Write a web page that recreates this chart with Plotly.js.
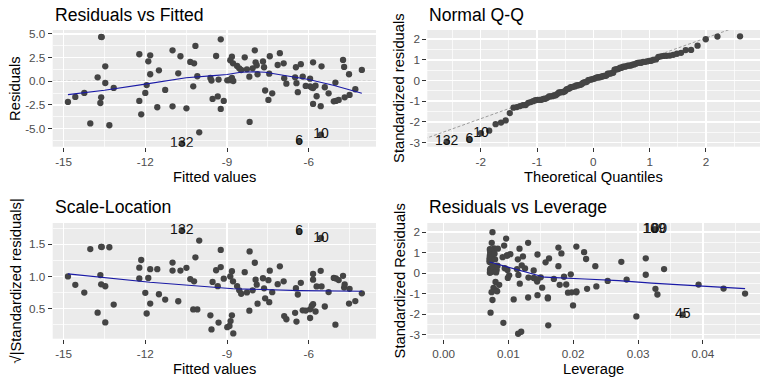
<!DOCTYPE html>
<html>
<head>
<meta charset="utf-8">
<script src="https://cdn.plot.ly/plotly-3.0.1.min.js"></script>
<style>html,body{margin:0;padding:0;background:#fff;}#chart{width:768px;height:384px;}</style>
</head>
<body>
<div id="chart"></div>
<script>
// ---------- data ----------
// observation ids for labelled points (first six entries of the arrays below)
const obsIds = ["132", "6", "10", "45", "100", "109"];

// fitted values (x of "Residuals vs Fitted")
const fitted = [
  -10.66, -6.35, -5.55, -14.02, -13.62, -13.60,
  -14.84, -14.57, -14.24, -13.75, -13.47, -13.62, -13.65, -13.47, -13.32, -13.16,
  -12.22, -12.22, -12.15, -11.89, -11.82, -11.82, -11.95, -12.00, -11.56, -11.50,
  -11.27, -11.00, -11.00, -10.79, -10.71, -10.49, -10.35, -10.21, -10.16, -10.24,
  -10.09, -10.02, -9.61, -9.57, -9.53, -9.40, -9.34,
  -9.23, -9.31, -9.12, -9.23, -8.99, -8.87, -8.82, -8.88, -8.82, -8.78,
  -8.63, -8.55, -8.48, -8.35, -8.27, -8.18, -8.06, -7.98, -7.95, -7.91,
  -7.88, -8.17, -7.68, -7.64, -7.60, -7.48, -7.34, -7.43, -7.45, -7.06,
  -7.14, -6.92, -6.90, -6.82, -6.47, -6.29, -6.50, -6.45, -6.22, -6.40,
  -6.11, -5.95, -5.84, -5.95, -5.89, -5.84, -5.75, -5.71, -5.84, -5.56,
  -5.53, -5.41, -5.27, -5.02, -5.08, -5.00, -4.90, -4.74, -4.70, -4.68,
  -4.52, -4.50, -4.29, -4.05, -8.91, -8.77
];
// residuals (y of "Residuals vs Fitted")
const residuals = [
  -6.56, -6.34, -5.64, -4.45, 4.68, 4.66,
  -2.18, -1.65, -1.23, 0.42, 1.58, -1.69, -2.29, -0.18, -4.64, -0.70,
  2.85, -2.07, -3.48, 2.11, 2.74, 0.74, -0.40, -1.23, -2.74, 1.16,
  -0.91, 3.27, -2.64, 0.84, 2.64, -2.85, 2.04, 1.90, 3.73, -0.53,
  0.53, -5.38, 0.35, 0.07, -1.86, 2.67, -1.60,
  4.43, 0.18, -2.07, -2.92, 0.10, 0.21, 0.35, 2.22, 2.60, 1.90,
  1.61, 1.37, 1.19, 2.53, 1.26, 0.49, 1.37, 3.27, 2.00, 1.69,
  0.74, -4.29, 2.10, 1.48, -0.97, -1.97, -1.27, 2.64, 0.80, 2.97,
  1.72, 1.90, 0.33, -0.25, 1.48, 1.80, 0.42, -0.20, 0.50, -1.15,
  -0.49, 0.28, 2.00, -0.53, -0.65, -0.72, -0.46, -1.58, -2.39, -2.62,
  1.58, -0.63, -1.27, -0.14, -2.11, -2.07, -1.97, 2.25, 1.51, -1.69,
  0.74, -1.44, -0.84, 1.20, 0.12, 0.03
];

// model constants
const residualSE = 2.23;     // residual standard error
const hatFloor = 0.0071;     // smallest leverage (1/n)
const fittedMean = -8.56;    // fitted value of minimum leverage
const fittedSS = 1001;       // sum of squares of fitted values about their mean

// smoother lines
const smooth1X = [-14.84, -13.5, -12.0, -10.5, -9.5, -9.0, -8.5, -8.0, -7.6, -7.1, -6.5, -6.0, -5.1, -4.05];
const smooth1Y = [-1.41, -0.95, -0.30, 0.38, 0.60, 0.72, 0.95, 1.00, 0.95, 0.70, 0.42, 0.18, -0.42, -1.27];
const smooth3X = [-14.84, -11.83, -8.77, -6.32, -4.05];
const smooth3Y = [1.04, 0.91, 0.81, 0.78, 0.77];
const smooth4X = [0.0071, 0.0125, 0.0156, 0.0218, 0.027, 0.0321, 0.0398, 0.0465];
const smooth4Y = [0.54, 0.08, -0.20, -0.29, -0.37, -0.49, -0.65, -0.76];
const qqLineX = [-3.0, 3.0];
const qqLineY = [-2.82, 3.03];

// tick labels
const x1Ticks = [-15, -12, -9, -6];
const x1Text = ["-15", "-12", "-9", "-6"];
const y1Ticks = [-5, -2.5, 0, 2.5, 5];
const y1Text = ["-5.0", "-2.5", "0.0", "2.5", "5.0"];
const x2Ticks = [-2, -1, 0, 1, 2];
const x2Text = ["-2", "-1", "0", "1", "2"];
const yStdTicks = [-3, -2, -1, 0, 1, 2];
const yStdText = ["-3", "-2", "-1", "0", "1", "2"];
const y3Ticks = [0.5, 1.0, 1.5];
const y3Text = ["0.5", "1.0", "1.5"];
const x4Ticks = [0, 0.01, 0.02, 0.03, 0.04];
const x4Text = ["0.00", "0.01", "0.02", "0.03", "0.04"];

// ---------- derived diagnostic quantities ----------
function qnorm(p){
  const a=[-3.969683028665376e+01,2.209460984245205e+02,-2.759285104469687e+02,1.383577518672690e+02,-3.066479806614716e+01,2.506628277459239e+00];
  const b=[-5.447609879822406e+01,1.615858368580409e+02,-1.556989798598866e+02,6.680131188771972e+01,-1.328068155288572e+01];
  const c=[-7.784894002430293e-03,-3.223964580411365e-01,-2.400758277161838e+00,-2.549732539343734e+00,4.374664141464968e+00,2.938163982698783e+00];
  const d=[7.784695709041462e-03,3.224671290700398e-01,2.445134137142996e+00,3.754408661907416e+00];
  const pl=0.02425, ph=1-pl; let q, r;
  if(p<pl){q=Math.sqrt(-2*Math.log(p));return (((((c[0]*q+c[1])*q+c[2])*q+c[3])*q+c[4])*q+c[5])/((((d[0]*q+d[1])*q+d[2])*q+d[3])*q+1);}
  if(p>ph){q=Math.sqrt(-2*Math.log(1-p));return -(((((c[0]*q+c[1])*q+c[2])*q+c[3])*q+c[4])*q+c[5])/((((d[0]*q+d[1])*q+d[2])*q+d[3])*q+1);}
  q=p-0.5; r=q*q;
  return (((((a[0]*r+a[1])*r+a[2])*r+a[3])*r+a[4])*r+a[5])*q/(((((b[0]*r+b[1])*r+b[2])*r+b[3])*r+b[4])*r+1);
}
const n = fitted.length;
const leverage = fitted.map(f => hatFloor + (f - fittedMean) * (f - fittedMean) / fittedSS);
const stdRes = residuals.map((r, i) => r / (residualSE * Math.sqrt(1 - leverage[i])));
const sqrtAbs = stdRes.map(s => Math.sqrt(Math.abs(s)));
const order = stdRes.map((_, i) => i).sort((a, b) => stdRes[a] - stdRes[b]);
const qqSample = order.map(i => stdRes[i]);
const qqTheo = order.map((_, k) => qnorm((k + 0.5) / n));
const rank = []; order.forEach((i, k) => { rank[i] = k; });

// which observations are labelled in each panel
const lab123 = [0, 1, 2];
const lab4 = [4, 5, 3];

// ---------- styling ----------
const FONT = "Liberation Sans, Arial, sans-serif";
const PT = "#444444";
const SMOOTH = "#1a1aa6";

function pts(x, y, xa, ya){
  return {type:"scatter", mode:"markers", x:x, y:y, xaxis:xa, yaxis:ya,
    marker:{size:6.3, color:PT, line:{width:0}}, hoverinfo:"skip", showlegend:false, cliponaxis:true};
}
function line(x, y, xa, ya, color, dash, width){
  return {type:"scatter", mode:"lines", x:x, y:y, xaxis:xa, yaxis:ya,
    line:{color:color, dash:dash, width:width}, hoverinfo:"skip", showlegend:false};
}
function labels(x, y, t, xa, ya){
  return {type:"scatter", mode:"text", x:x, y:y, text:t, xaxis:xa, yaxis:ya,
    textposition:"middle center", textfont:{family:FONT, size:14, color:"#111"},
    hoverinfo:"skip", showlegend:false, cliponaxis:true};
}

const traces = [
  line(qqLineX, qqLineY, "x2", "y2", "#888888", "3px,2px", 0.8),
  pts(fitted, residuals, "x", "y"),
  line(smooth1X, smooth1Y, "x", "y", SMOOTH, "solid", 1.1),
  labels(lab123.map(i => fitted[i]), lab123.map(i => residuals[i]), lab123.map(i => obsIds[i]), "x", "y"),

  pts(qqTheo, qqSample, "x2", "y2"),
  labels(lab123.map(i => qqTheo[rank[i]]), lab123.map(i => qqSample[rank[i]]), lab123.map(i => obsIds[i]), "x2", "y2"),

  pts(fitted, sqrtAbs, "x3", "y3"),
  line(smooth3X, smooth3Y, "x3", "y3", SMOOTH, "solid", 1.1),
  labels(lab123.map(i => fitted[i]), lab123.map(i => sqrtAbs[i]), lab123.map(i => obsIds[i]), "x3", "y3"),

  pts(leverage, stdRes, "x4", "y4"),
  line(smooth4X, smooth4Y, "x4", "y4", SMOOTH, "solid", 1.1),
  labels(lab4.map(i => leverage[i]), lab4.map(i => stdRes[i]), lab4.map(i => obsIds[i]), "x4", "y4")
];

const W = 768, H = 384;
const fx = p => p / W, fy = p => 1 - p / H;

function axis(domain, range, tv, tt, minorDt, minorT0, anchor){
  return {domain:domain, range:range, anchor:anchor, tickmode:"array", tickvals:tv, ticktext:tt,
    showgrid:true, gridcolor:"#ffffff", gridwidth:1.4, zeroline:false, showline:false,
    ticks:"outside", ticklen:4, tickwidth:1, tickcolor:"#333333",
    tickfont:{family:FONT, size:11.7, color:"#4D4D4D"},
    minor:{showgrid:true, gridcolor:"#ffffff", gridwidth:0.7, dtick:minorDt, tick0:minorT0, ticks:""},
    fixedrange:true};
}
const dxL = [fx(52.7), fx(376)], dxR = [fx(427.3), fx(760)];
const dyT = [fy(146.7), fy(30)], dyB = [fy(338.7), fy(223)];

function ann(text, xpx, ypx, size, xanchor, angle){
  return {text:text, x:fx(xpx), y:fy(ypx), xref:"paper", yref:"paper", showarrow:false,
    xanchor:xanchor, yanchor:"middle", textangle:angle || 0,
    font:{family:FONT, size:size, color:"#000000"}};
}

const layout = {
  width:W, height:H, margin:{l:0, r:0, t:0, b:0}, paper_bgcolor:"#ffffff", plot_bgcolor:"#EBEBEB",
  showlegend:false,
  xaxis: axis(dxL, [-15.4, -3.53], x1Ticks, x1Text, 1.5, -15, "y"),
  yaxis: axis(dyT, [-6.9, 5.41], y1Ticks, y1Text, 1.25, 0, "x"),
  xaxis2: axis(dxR, [-2.95, 2.96], x2Ticks, x2Text, 0.5, 0, "y2"),
  yaxis2: axis(dyT, [-3.2, 2.44], yStdTicks, yStdText, 0.5, 0, "x2"),
  xaxis3: axis(dxL, [-15.4, -3.53], x1Ticks, x1Text, 1.5, -15, "y3"),
  yaxis3: axis(dyB, [0.034, 1.83], y3Ticks, y3Text, 0.25, 0, "x3"),
  xaxis4: axis(dxR, [-0.0025, 0.0488], x4Ticks, x4Text, 0.005, 0, "y4"),
  yaxis4: axis(dyB, [-3.2, 2.44], yStdTicks, yStdText, 0.5, 0, "x4"),
  shapes:[
    {type:"line", xref:"x domain", yref:"y", x0:0, x1:1, y0:0, y1:0, line:{color:"#888888", width:0.9, dash:"3px,2px"}, layer:"below"},
    {type:"line", xref:"x4 domain", yref:"y4", x0:0, x1:1, y0:0, y1:0, line:{color:"#888888", width:0.9, dash:"3px,2px"}, layer:"below"}
  ],
  annotations:[
    ann("Residuals vs Fitted", 52.7, 14.6, 17.6, "left"),
    ann("Normal Q-Q", 427.3, 14.6, 17.6, "left"),
    ann("Scale-Location", 52.7, 206.6, 17.6, "left"),
    ann("Residuals vs Leverage", 427.3, 206.6, 17.6, "left"),
    ann("Fitted values", 214.35, 176.6, 14.7, "center"),
    ann("Theoretical Quantiles", 593.6, 176.6, 14.7, "center"),
    ann("Fitted values", 214.35, 368.6, 14.7, "center"),
    ann("Leverage", 593.6, 368.6, 14.7, "center"),
    ann("Residuals", 15.6, 88.3, 14.7, "center", -90),
    ann("Standardized residuals", 399.6, 88.3, 14.7, "center", -90),
    ann("√|Standardized residuals|", 15.6, 280.8, 14.7, "center", -90),
    ann("Standardized Residuals", 399.6, 280.8, 14.7, "center", -90)
  ]
};

Plotly.newPlot("chart", traces, layout, {staticPlot:true, displayModeBar:false});
</script>
</body>
</html>
